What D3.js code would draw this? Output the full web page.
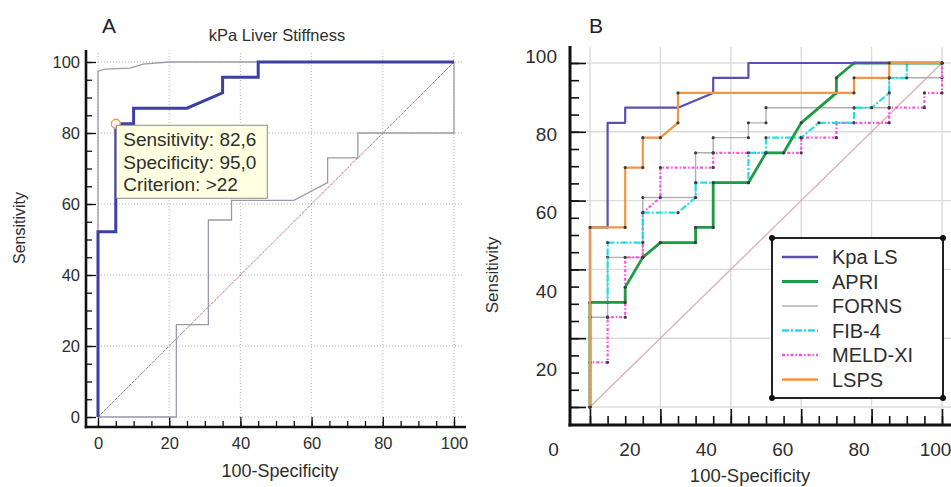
<!DOCTYPE html>
<html>
<head>
<meta charset="utf-8">
<script src="https://cdn.jsdelivr.net/npm/d3@7"></script>
<style>
    body { margin: 0; background: #fff; }
    svg { display: block; font-family: Arial, "Liberation Sans", sans-serif; }
</style>
</head>
<body>
<div id="chart"></div>
<script>

// ---------- data ----------
const ticks = [0, 20, 40, 60, 80, 100];
const minorTicks = d3.range(0, 101, 5);
const diagonal = [[0, 0], [100, 100]];

// Panel A: kPa liver stiffness ROC curve with 95% confidence bounds
const kpaCurveA = [[0,0],[0,52.2],[5,52.2],[5,82.6],[10,82.6],[10,87.0],[25,87.0],[35,91.3],[35,95.7],[45,95.7],[45,100],[100,100]];
const upperBoundA = [[0,0],[0,97.4],[2,98],[9,98.3],[12.6,99.4],[20,100],[100,100]];
const lowerBoundA = [[0,0],[22,0],[22,26],[31,26],[31,55.5],[37.5,55.5],[37.5,61],[55,61],[64.5,66],[64.5,73],[73,73],[73,80],[100,80],[100,100]];
const cutPoint = [5, 82.6];
const tipLines = ["Sensitivity: 82,6", "Specificity: 95,0", "Criterion: >22"];

// Panel B: all scores
const seriesNames = ["Kpa LS", "APRI", "FORNS", "FIB-4", "MELD-XI", "LSPS"];
const kpaLS = [[0,0],[0,52.2],[5,52.2],[5,82.6],[10,82.6],[10,87.0],[25,87.0],[35,91.3],[35,95.7],[45,95.7],[45,100],[100,100]];
const apri = [[0,0],[0,30.4],[10,30.4],[10,34.8],[15,43.5],[20,47.8],[30,47.8],[30,52.2],[35,52.2],[35,65.2],[45,65.2],[50,73.9],[55,73.9],[60,82.6],[70,91.3],[70,95.7],[75,100],[100,100]];
const forns = [[0,0],[0,26.1],[5,26.1],[5,43.5],[15,43.5],[15,60.9],[30,60.9],[30,73.9],[35,73.9],[35,78.3],[45,78.3],[45,82.6],[50,82.6],[50,87.0],[85,87.0],[85,95.7],[100,95.7],[100,100]];
const fib4 = [[0,0],[0,30.4],[5,30.4],[5,47.8],[15,47.8],[15,56.5],[25,56.5],[30,60.9],[30,65.2],[45,65.2],[45,73.9],[50,73.9],[50,78.3],[60,78.3],[65,82.6],[75,82.6],[75,87.0],[80,87.0],[85,91.3],[85,95.7],[90,95.7],[90,100],[100,100]];
const meldXI = [[0,0],[0,13.0],[5,13.0],[5,26.1],[10,26.1],[10,43.5],[15,43.5],[15,56.5],[20,60.9],[20,69.6],[35,69.6],[35,73.9],[60,73.9],[60,78.3],[70,78.3],[70,82.6],[85,82.6],[85,87.0],[95,87.0],[95,91.3],[100,91.3],[100,100]];
const lsps = [[0,0],[0,52.2],[10,52.2],[10,69.6],[15,69.6],[15,78.3],[20,78.3],[25,82.6],[25,91.3],[75,91.3],[75,95.7],[85,95.7],[85,100],[100,100]];
const seriesData = [kpaLS, apri, forns, fib4, meldXI, lsps];

// line styles per series
const styles = {
    "Kpa LS":  {color: "#5b4fb0", width: 2.2, dash: null, dots: false},
    "APRI":    {color: "#1f9a45", width: 2.8, dash: null, dots: true},
    "FORNS":   {color: "#b0b0b0", width: 1.4, dash: null, dots: true},
    "FIB-4":   {color: "#1ee0ea", width: 2.2, dash: "7,2,2,2", dots: true},
    "MELD-XI": {color: "#ff50e0", width: 2.2, dash: "3,2,1.5,2", dots: true},
    "LSPS":    {color: "#f59445", width: 2.2, dash: null, dots: true}
};
const drawOrder = ["FORNS", "MELD-XI", "FIB-4", "APRI", "Kpa LS", "LSPS"];

let svg = d3.select("#chart").append("svg")
    .attr("width", 951)
    .attr("height", 487);

let lineGen = (x, y) => d3.line().x(d => x(d[0])).y(d => y(d[1]));

/*
 * Frame of one panel: gridlines, thick axes, inward ticks, labels
 */
function drawFrame(g, p) {
    // gridlines
    g.append("g").selectAll("line").data(ticks).join("line")
        .attr("x1", d => p.x(d)).attr("x2", d => p.x(d))
        .attr("y1", p.gridTop).attr("y2", p.axisY)
        .attr("stroke", p.gridColor).attr("stroke-width", p.gridWidth)
        .attr("stroke-dasharray", p.gridDash);
    g.append("g").selectAll("line").data(ticks).join("line")
        .attr("y1", d => p.y(d)).attr("y2", d => p.y(d))
        .attr("x1", p.gridLeft).attr("x2", p.gridRight)
        .attr("stroke", p.gridColor).attr("stroke-width", p.gridWidth)
        .attr("stroke-dasharray", p.gridDash);

    // ticks (minor then major), pointing into the plot
    [[minorTicks, p.minorLen], [ticks, p.majorLen]].forEach(([vals, len]) => {
        let ya = g.append("g").attr("transform", `translate(${p.axisX},0)`)
            .call(d3.axisRight(p.y).tickValues(vals).tickSize(len).tickFormat(""));
        ya.select(".domain").remove();
        ya.selectAll("line").attr("stroke", "#111").attr("stroke-width", p.tickWidth);

        let xa = g.append("g").attr("transform", `translate(0,${p.axisY})`)
            .call(d3.axisTop(p.x).tickValues(vals).tickSize(len).tickFormat(""));
        xa.select(".domain").remove();
        xa.selectAll("line").attr("stroke", "#111").attr("stroke-width", p.tickWidth);
    });

    // axis lines
    g.append("line")
        .attr("x1", p.axisX).attr("x2", p.axisX)
        .attr("y1", p.axisTop).attr("y2", p.axisY + p.axisWidth / 2)
        .attr("stroke", "#111").attr("stroke-width", p.axisWidth);
    g.append("line")
        .attr("x1", p.axisX - p.axisWidth / 2).attr("x2", p.axisRight)
        .attr("y1", p.axisY).attr("y2", p.axisY)
        .attr("stroke", "#111").attr("stroke-width", p.axisWidth);

    // tick labels
    let yl = g.append("g").attr("transform", `translate(${p.yLabelX},0)`)
        .call(d3.axisLeft(p.yl).tickValues(p.yLabelTicks).tickSize(0).tickPadding(0));
    yl.select(".domain").remove();
    yl.attr("font-size", null).attr("font-family", null);
    yl.selectAll("text").attr("font-size", p.labelSize).attr("fill", "#2e2e2e");

    let xl = g.append("g").attr("transform", `translate(0,${p.xLabelY})`)
        .call(d3.axisBottom(p.xl).tickValues(ticks).tickSize(0).tickPadding(0));
    xl.select(".domain").remove();
    xl.attr("font-size", null).attr("font-family", null);
    xl.selectAll("text").attr("font-size", p.labelSize).attr("fill", "#2e2e2e");

    // axis titles
    g.append("text")
        .attr("x", p.xTitle[0]).attr("y", p.xTitle[1])
        .attr("text-anchor", "middle")
        .attr("font-size", p.titleSize).attr("fill", "#2e2e2e")
        .text("100-Specificity");
    g.append("text")
        .attr("transform", `translate(${p.yTitle[0]},${p.yTitle[1]}) rotate(-90)`)
        .attr("text-anchor", "middle").attr("dy", "0.35em")
        .attr("font-size", p.ySize).attr("fill", "#2e2e2e")
        .text("Sensitivity");
    g.append("text")
        .attr("x", p.letter[0]).attr("y", p.letter[1])
        .attr("font-size", 21).attr("fill", "#222")
        .text(p.letterText);
}

/*
 * Panel A
 */
let xA = d3.scaleLinear().domain([0, 100]).range([98, 454]);
let yA = d3.scaleLinear().domain([0, 100]).range([417, 62]);
let gA = svg.append("g");

drawFrame(gA, {
    x: xA, y: yA, xl: xA, yl: yA, yLabelTicks: ticks,
    gridTop: 53, gridLeft: 98, gridRight: 463,
    gridColor: "#b4b4b4", gridWidth: 1, gridDash: "1,2",
    axisX: 86, axisY: 427, axisTop: 50, axisRight: 466, axisWidth: 2.6,
    minorLen: 6, majorLen: 10, tickWidth: 1.3,
    yLabelX: 80, xLabelY: 437, labelSize: 16.5,
    xTitle: [280, 477], titleSize: 18,
    yTitle: [19, 228], ySize: 16,
    letter: [102, 33], letterText: "A"
});

gA.append("text")
    .attr("x", 277).attr("y", 41)
    .attr("text-anchor", "middle")
    .attr("font-size", 16.5).attr("fill", "#2e2e2e")
    .text("kPa Liver Stiffness");

let lineA = lineGen(xA, yA);

gA.append("path").attr("d", lineA(diagonal))
    .attr("fill", "none").attr("stroke", "#b07878").attr("stroke-width", 1)
    .attr("stroke-dasharray", "3,1");

[upperBoundA, lowerBoundA].forEach(b => {
    gA.append("path").attr("d", lineA(b))
        .attr("fill", "none").attr("stroke", "#9a9aac").attr("stroke-width", 1.3);
});

gA.append("path").attr("d", lineA(kpaCurveA))
    .attr("fill", "none").attr("stroke", "#3b3fa6").attr("stroke-width", 3);

// optimal cut-off marker and tooltip
gA.append("circle")
    .attr("cx", xA(cutPoint[0])).attr("cy", yA(cutPoint[1])).attr("r", 4.5)
    .attr("fill", "#fff4e6").attr("stroke", "#e89a5a").attr("stroke-width", 1.3);

let tip = gA.append("g")
    .attr("transform", `translate(${xA(cutPoint[0]) + 0.5},${yA(cutPoint[1]) + 1.5})`);
tip.append("rect")
    .attr("width", 151).attr("height", 73)
    .attr("fill", "#ffffe1").attr("stroke", "#8a8a8a").attr("stroke-width", 1);
tip.selectAll("text").data(tipLines).join("text")
    .attr("x", 7).attr("y", (d, i) => 21 + i * 22.5)
    .attr("font-size", 19).attr("fill", "#2e2e2e")
    .text(d => d);

/*
 * Panel B
 */
let xB = d3.scaleLinear().domain([0, 100]).range([590, 942]);
let yB = d3.scaleLinear().domain([0, 100]).range([407, 63]);
// tick labels in panel B sit on their own, wider spacing
let xlB = d3.scaleLinear().domain([0, 100]).range([553, 935]);
let ylB = d3.scaleLinear().domain([0, 100]).range([448, 56]);
let gB = svg.append("g");

drawFrame(gB, {
    x: xB, y: yB, xl: xlB, yl: ylB, yLabelTicks: ticks.slice(1),
    gridTop: 47, gridLeft: 570, gridRight: 951,
    gridColor: "#dcdcdc", gridWidth: 1.4, gridDash: null,
    axisX: 570, axisY: 425, axisTop: 46, axisRight: 951, axisWidth: 3,
    minorLen: 9, majorLen: 16, tickWidth: 1.6,
    yLabelX: 557, xLabelY: 442, labelSize: 19,
    xTitle: [750, 482], titleSize: 18.5,
    yTitle: [492, 275], ySize: 17,
    letter: [589, 33], letterText: "B"
});

let lineB = lineGen(xB, yB);

gB.append("path").attr("d", lineB(diagonal))
    .attr("fill", "none").attr("stroke", "#d8b0b0").attr("stroke-width", 1.3);

drawOrder.forEach(name => {
    let s = styles[name];
    let pts = seriesData[seriesNames.indexOf(name)];
    gB.append("path").attr("d", lineB(pts))
        .attr("fill", "none")
        .attr("stroke", s.color).attr("stroke-width", s.width)
        .attr("stroke-dasharray", s.dash)
        .attr("stroke-linejoin", "round");
    if (s.dots) {
        gB.append("g").selectAll("circle").data(pts).join("circle")
            .attr("cx", d => xB(d[0])).attr("cy", d => yB(d[1])).attr("r", 1.6)
            .attr("fill", "#3c3c3c");
    }
});

// legend
let leg = gB.append("g").attr("transform", "translate(772,238)");
leg.append("rect")
    .attr("width", 171).attr("height", 160)
    .attr("fill", "#fff").attr("stroke", "#222").attr("stroke-width", 2);
leg.selectAll("circle.corner").data([[0, 0], [171, 0], [0, 160], [171, 160]]).join("circle")
    .attr("class", "corner")
    .attr("cx", d => d[0]).attr("cy", d => d[1]).attr("r", 3)
    .attr("fill", "#111");

let rows = leg.selectAll("g.row").data(seriesNames).join("g")
    .attr("class", "row")
    .attr("transform", (d, i) => `translate(0,${19 + i * 24.5})`);
rows.append("line")
    .attr("x1", 10).attr("x2", 46)
    .attr("stroke", d => styles[d].color)
    .attr("stroke-width", d => styles[d].width + 0.3)
    .attr("stroke-dasharray", d => styles[d].dash);
rows.append("text")
    .attr("x", 60).attr("dy", "0.36em")
    .attr("font-size", 20).attr("fill", "#2e2e2e")
    .text(d => d);

</script>
</body>
</html>
